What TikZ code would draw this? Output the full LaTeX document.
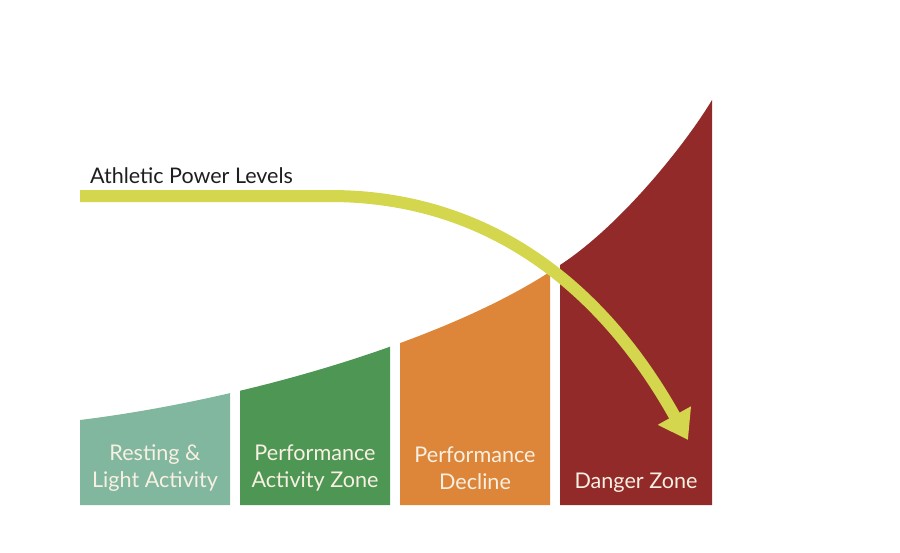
\documentclass[tikz,border=0pt]{standalone}
\usepackage{fontspec}
\setmainfont{Lato}
\usetikzlibrary{arrows.meta}
\definecolor{restgreen}{RGB}{128,183,158}
\definecolor{perfgreen}{RGB}{78,150,84}
\definecolor{declorange}{RGB}{221,134,58}
\definecolor{dangerred}{RGB}{147,42,42}
\definecolor{arrowyellow}{RGB}{212,214,78}
\definecolor{labelcream}{RGB}{248,240,226}
\definecolor{titlegray}{RGB}{30,30,30}
\tikzset{
  zonelabel/.style={text=labelcream, font=\fontsize{21.6}{27}\selectfont, align=center, inner sep=0pt},
  powerarrow/.style={arrowyellow, line width=12pt, -{Triangle[width=36pt,length=28pt]}},
}
\begin{document}
\begin{tikzpicture}[x=1pt,y=-1pt]
  \useasboundingbox (0,0) rectangle (900,552);
  % zones under the rising curve
  \foreach \xl/\xr/\zonecol in {80/230/restgreen, 240/390/perfgreen, 400/550/declorange, 560/712/dangerred}{
    \begin{scope}
      \clip (\xl,505) rectangle (\xr,0);
      \fill[\zonecol] (80,505) -- (80,420) .. controls (250,399) and (455,338) .. (560,265)
        .. controls (620,226) and (685,145) .. (712,100) -- (712,505) -- cycle;
    \end{scope}
  }
  \node[zonelabel] (resting) at (155,468) {Resting \&\\Light Activity};
  \node[zonelabel] (activity) at (315,468) {Performance\\Activity Zone};
  \node[zonelabel] (decline) at (475,468) {Performance\\Decline};
  \node[zonelabel, anchor=base] (danger) at (636,488) {Danger Zone};
  % power level arrow
  \node[anchor=base west, inner sep=0pt, text=titlegray, font=\fontsize{21.5}{24}\selectfont] (title) at (90,183) {Athletic Power Levels};
  \coordinate (powerstart) at (80,196);
  \coordinate (powerbend) at (330,196);
  \coordinate (powertip) at (688,440);
  \draw[powerarrow] (powerstart) -- (powerbend) .. controls (500,196) and (610,300) .. (powertip);
\end{tikzpicture}
\end{document}
